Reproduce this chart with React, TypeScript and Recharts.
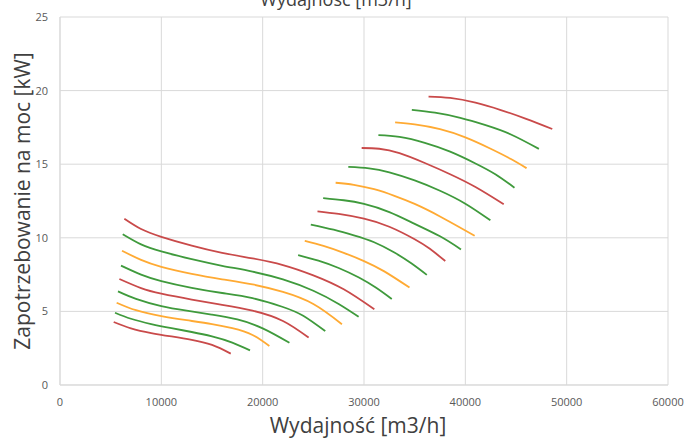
import React from 'react';
import { LineChart, Line, XAxis, YAxis, CartesianGrid } from 'recharts';

// x ticks / y ticks
const xTicks = [0, 10000, 20000, 30000, 40000, 50000, 60000];
const yTicks = [0, 5, 10, 15, 20, 25];

// curves: [capacity m3/h, power kW]
const curve0 = [[5300, 4.28], [7000, 3.85], [9000, 3.53], [11000, 3.3], [13000, 3.07], [15000, 2.72], [16850, 2.13]];
const curve1 = [[5430, 4.91], [7000, 4.5], [9000, 4.14], [11000, 3.86], [13000, 3.6], [15000, 3.3], [17000, 2.88], [18750, 2.35]];
const curve2 = [[5590, 5.59], [7500, 5.08], [10000, 4.68], [12500, 4.4], [15000, 4.14], [17000, 3.86], [19000, 3.4], [20660, 2.65]];
const curve3 = [[5720, 6.36], [7500, 5.85], [10000, 5.36], [12500, 5.05], [15000, 4.78], [17500, 4.45], [20000, 3.85], [22640, 2.87]];
const curve4 = [[5860, 7.2], [8000, 6.58], [10000, 6.2], [13000, 5.8], [16000, 5.45], [19000, 5.05], [22000, 4.35], [24530, 3.22]];
const curve5 = [[6020, 8.11], [8000, 7.5], [10000, 7.06], [13000, 6.6], [16000, 6.25], [19000, 5.9], [22000, 5.3], [24000, 4.7], [26170, 3.66]];
const curve6 = [[6120, 9.12], [8000, 8.5], [10000, 8.03], [13000, 7.55], [16000, 7.18], [19000, 6.83], [22000, 6.32], [25000, 5.5], [27820, 4.13]];
const curve7 = [[6190, 10.24], [8000, 9.55], [10000, 9.07], [13000, 8.55], [16000, 8.1], [19000, 7.7], [22000, 7.17], [25000, 6.4], [27500, 5.5], [29470, 4.63]];
const curve8 = [[6350, 11.3], [8000, 10.6], [10000, 10.07], [13000, 9.47], [16000, 8.98], [19000, 8.6], [22000, 8.15], [25000, 7.45], [28000, 6.5], [31020, 5.14]];
const curve9 = [[23500, 8.83], [25500, 8.45], [27500, 7.95], [29500, 7.3], [31200, 6.6], [32740, 5.84]];
const curve10 = [[24160, 9.8], [26000, 9.45], [28000, 8.98], [30000, 8.42], [32000, 7.72], [34490, 6.62]];
const curve11 = [[24750, 10.9], [27000, 10.55], [29000, 10.17], [31000, 9.7], [33000, 9.0], [34700, 8.25], [36200, 7.48]];
const curve12 = [[25410, 11.8], [27500, 11.62], [30000, 11.3], [32500, 10.75], [35000, 9.9], [36500, 9.25], [38020, 8.42]];
const curve13 = [[25970, 12.7], [28000, 12.55], [30000, 12.3], [32500, 11.75], [35000, 10.95], [37500, 10.1], [39570, 9.21]];
const curve14 = [[27200, 13.74], [29000, 13.6], [31000, 13.3], [33000, 12.85], [35000, 12.3], [37500, 11.45], [40920, 10.14]];
const curve15 = [[28450, 14.82], [30500, 14.72], [32500, 14.45], [35000, 13.9], [37500, 13.2], [40000, 12.32], [42470, 11.19]];
const curve16 = [[29770, 16.1], [31500, 16.05], [33500, 15.75], [36000, 15.08], [38500, 14.32], [41000, 13.45], [43790, 12.28]];
const curve17 = [[31420, 16.98], [33500, 16.85], [36000, 16.45], [38500, 15.85], [41000, 15.05], [43000, 14.3], [44850, 13.4]];
const curve18 = [[33070, 17.84], [35000, 17.7], [37500, 17.38], [40000, 16.82], [42500, 16.05], [44500, 15.35], [46040, 14.73]];
const curve19 = [[34720, 18.69], [37000, 18.5], [39500, 18.15], [42000, 17.65], [44500, 17.02], [47260, 16.04]];
const curve20 = [[36370, 19.59], [38500, 19.5], [41000, 19.18], [43500, 18.68], [46000, 18.08], [48580, 17.39]];

const curves = [
  curve0, curve1, curve2, curve3, curve4, curve5, curve6, curve7, curve8, curve9, curve10,
  curve11, curve12, curve13, curve14, curve15, curve16, curve17, curve18, curve19, curve20,
];

const palette = ['#c94a4a', '#3f9a3c', '#ffaa33', '#3f9a3c'];

const FONT = '"Open Sans", "Noto Sans", sans-serif';

export default function App() {
  return (
    <div style={{ position: 'absolute', left: 0, top: 0, width: 687, height: 438, background: '#fff', overflow: 'hidden', fontFamily: FONT }}>
      <div style={{ position: 'absolute', left: 136, width: 400, top: -13, textAlign: 'center', fontSize: 18, color: '#404040', lineHeight: '24px', whiteSpace: 'nowrap' }}>
        Wydajność [m3/h]
      </div>
      <LineChart width={687} height={438} margin={{ top: 17, right: 19, bottom: 0, left: 0 }}>
        <CartesianGrid stroke="#d9d9d9" strokeWidth={1} />
        <XAxis
          type="number"
          dataKey="x"
          domain={[0, 60000]}
          ticks={xTicks}
          allowDataOverflow
          tickLine={false}
          tickSize={0}
          tickMargin={13}
          axisLine={{ stroke: '#d9d9d9' }}
          tick={{ fontSize: 11, fill: '#595959', fontFamily: FONT }}
          height={53}
        />
        <YAxis
          type="number"
          dataKey="y"
          domain={[0, 25]}
          ticks={yTicks}
          allowDataOverflow
          tickLine={false}
          tickSize={0}
          tickMargin={12}
          axisLine={{ stroke: '#d9d9d9' }}
          tick={{ fontSize: 11, fill: '#595959', fontFamily: FONT }}
          width={60}
        />
        {curves.map((c, i) => (
          <Line
            key={i}
            data={c.map(([x, y]) => ({ x, y }))}
            dataKey="y"
            type="natural"
            stroke={palette[i % 4]}
            strokeWidth={1.8}
            dot={false}
            activeDot={false}
            isAnimationActive={false}
          />
        ))}
      </LineChart>
      <div style={{ position: 'absolute', left: 158, width: 400, top: 412, textAlign: 'center', fontSize: 21, color: '#404040', lineHeight: '26px', whiteSpace: 'nowrap' }}>
        Wydajność [m3/h]
      </div>
      <div style={{ position: 'absolute', left: 22, top: 201, width: 0, height: 0 }}>
        <div style={{ position: 'absolute', transform: 'translate(-50%, -50%) rotate(-90deg)', whiteSpace: 'nowrap', fontSize: 21, color: '#404040', lineHeight: '26px' }}>
          Zapotrzebowanie na moc [kW]
        </div>
      </div>
    </div>
  );
}
